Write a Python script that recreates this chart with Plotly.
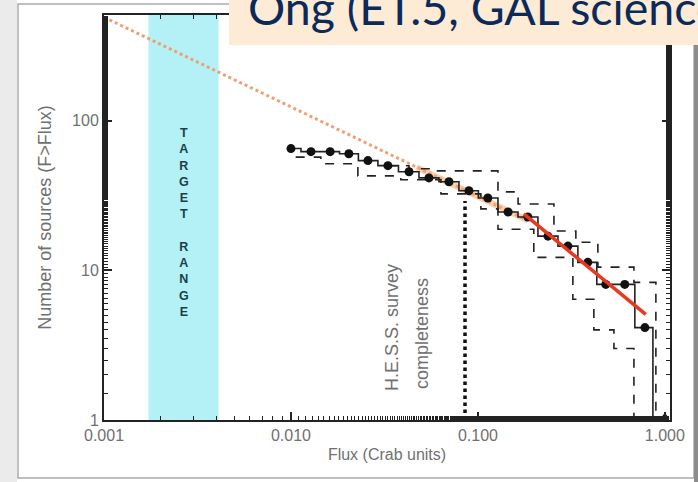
import numpy as np
import plotly.graph_objects as go

# --- data ---
flux_pts = [0.0100, 0.0128, 0.0162, 0.0204, 0.0258, 0.0330, 0.0428, 0.0547, 0.0700,
            0.0895, 0.113, 0.145, 0.185, 0.237, 0.303, 0.387, 0.483, 0.610, 0.782]
n_pts = [65, 62, 62, 60, 54, 50, 45.5, 41.4, 39, 34, 30.4, 24.5, 22.7, 16.9, 14.5,
         11.3, 8.05, 8.05, 4.14]
step_end_flux = [0.863, 0.863]
step_end_n = [4.14, 1.0]

upper_flux = [0.0330, 0.0428, 0.0561, 0.128, 0.164, 0.255, 0.334, 0.438, 0.683, 0.895, 0.895]
upper_n = [49.9, 47.6, 46.1, 33.4, 27.7, 18.3, 15.4, 10.5, 8.3, 4.9, 1.0]

lower_flux = [0.0106, 0.01445, 0.0228, 0.0387, 0.0634, 0.1037, 0.128, 0.199, 0.322, 0.417,
              0.534, 0.683]
lower_n = [57, 51.5, 42.7, 40.2, 32.4, 25.7, 18.8, 12.2, 6.4, 4.0, 3.0, 1.0]

extrap_flux = [0.001, 0.185]
extrap_n = [490, 21.5]
extrap_band_flux = [0.047, 0.185]
extrap_band_n = [48.8, 21.5]

fit_flux = [0.176, 0.79]
fit_n = [23.8, 5.07]

hess_flux = [0.0853, 0.0853]
hess_n = [1.0, 29]

target_range = [0.00173, 0.0041]
y_top = 507

x_tickvals = [0.001, 0.01, 0.1, 1.0]
x_ticktext = ["0.001", "0.010", "0.100", "1.000"]
y_tickvals = [1, 10, 100]
y_ticktext = ["1", "10", "100"]

W, H = 698, 482
ML, MR, MT, MB = 104, 28, 15, 62
PW, PH = W - ML - MR, H - MT - MB


def px(x):
    return (x - ML) / PW


def py(y):
    return (H - MB - y) / PH


fig = go.Figure()

# target range band
fig.add_trace(go.Scatter(
    x=[target_range[0], target_range[0], target_range[1], target_range[1]],
    y=[1, y_top, y_top, 1],
    fill="toself", fillcolor="#b3f1f6", line=dict(width=0),
    mode="lines", hoverinfo="skip"
))

# extrapolation
fig.add_trace(go.Scatter(
    x=extrap_band_flux, y=extrap_band_n, mode="lines",
    line=dict(color="rgba(245,170,110,0.55)", width=6)
))
fig.add_trace(go.Scatter(
    x=extrap_flux, y=extrap_n, mode="lines",
    line=dict(color="#f0a070", width=3, dash="dot")
))

# envelopes
fig.add_trace(go.Scatter(
    x=upper_flux, y=upper_n, mode="lines", line_shape="hv",
    line=dict(color="#222222", width=1.6, dash="dash")
))
fig.add_trace(go.Scatter(
    x=lower_flux, y=lower_n, mode="lines", line_shape="hv",
    line=dict(color="#222222", width=1.6, dash="dash")
))

# HESS survey completeness
fig.add_trace(go.Scatter(
    x=hess_flux, y=hess_n, mode="lines",
    line=dict(color="#111111", width=3.5, dash="dot")
))

# data
fig.add_trace(go.Scatter(
    x=flux_pts + step_end_flux, y=n_pts + step_end_n, mode="lines",
    line_shape="hvh", line=dict(color="#222222", width=1.6)
))
fig.add_trace(go.Scatter(
    x=flux_pts, y=n_pts, mode="markers",
    marker=dict(color="#111111", size=9)
))
fig.add_trace(go.Scatter(
    x=[1.0], y=[1.05], mode="markers", cliponaxis=False,
    marker=dict(color="#111111", size=8, symbol="triangle-up")
))

# fit
fig.add_trace(go.Scatter(
    x=fit_flux, y=fit_n, mode="lines",
    line=dict(color="#e8391f", width=3.5)
))

axis_common = dict(
    type="log", showgrid=False, zeroline=False, automargin=False,
    showline=True, linecolor="#222222", linewidth=2, mirror="ticks",
    ticks="inside", ticklen=8, tickwidth=1.5, tickcolor="#222222",
    minor=dict(ticks="inside", ticklen=4, tickwidth=1.2, tickcolor="#222222"),
    tickfont=dict(family="Liberation Sans, Arial", size=16, color="#707070"),
    title_font=dict(family="Liberation Sans, Arial", size=16, color="#707070"),
)

fig.update_layout(
    width=W, height=H,
    margin=dict(l=ML, r=MR, t=MT, b=MB),
    paper_bgcolor="white", plot_bgcolor="white",
    showlegend=False,
    xaxis=dict(axis_common, range=[-3, np.log10(1.065)],
               tickvals=x_tickvals, ticktext=x_ticktext,
               title=dict(text="Flux (Crab units)", standoff=6)),
    yaxis=dict(axis_common, range=[0, np.log10(y_top)],
               tickvals=y_tickvals, ticktext=y_ticktext,
               title=dict(text="Number of sources (F>Flux)", standoff=16,
                          font=dict(size=18))),
)

# text in the plot
fig.add_annotation(
    x=np.log10(np.sqrt(target_range[0] * target_range[1])), y=1.32,
    xref="x", yref="y", showarrow=False, xanchor="center", yanchor="middle",
    text="T<br>A<br>R<br>G<br>E<br>T<br><br>R<br>A<br>N<br>G<br>E",
    font=dict(family="Liberation Sans, Arial", size=12.5, color="#1c3f44", weight="bold")
)
fig.add_annotation(
    x=px(392), y=py(328), xref="paper", yref="paper", showarrow=False,
    xanchor="center", yanchor="middle",
    text="H.E.S.S. survey", textangle=-90,
    font=dict(family="Liberation Sans, Arial", size=18, color="#707070")
)
fig.add_annotation(
    x=px(422), y=py(334), xref="paper", yref="paper", showarrow=False,
    xanchor="center", yanchor="middle",
    text="completeness", textangle=-90,
    font=dict(family="Liberation Sans, Arial", size=18, color="#707070")
)

# slide frame
fig.add_shape(type="rect", xref="paper", yref="paper",
              x0=px(0), x1=px(17), y0=py(H), y1=py(0),
              fillcolor="#ebebeb", line_width=0, layer="below")
fig.add_shape(type="rect", xref="paper", yref="paper",
              x0=px(694), x1=px(W), y0=py(H), y1=py(0),
              fillcolor="#8c8c8c", line_width=0, layer="above")
fig.add_shape(type="rect", xref="paper", yref="paper",
              x0=px(18), x1=px(694), y0=py(478), y1=py(4),
              line=dict(color="#aaaaaa", width=1.5), layer="below")

# title box
fig.add_shape(type="rect", xref="paper", yref="paper",
              x0=px(229), x1=px(W + 2), y0=py(45), y1=py(-2),
              fillcolor="#fdebd6", line_width=0, layer="above")
fig.add_annotation(
    x=px(246), y=py(20), xref="paper", yref="paper", showarrow=False,
    xanchor="left", yanchor="bottom", yshift=-17,
    text="Ong (ET.5, GAL science)",
    font=dict(family="Lato, Open Sans", size=46.5, color="#0b2a5a")
)

fig.write_html("out.html", post_script="document.body.style.margin='0';",
               config={"displayModeBar": False})
